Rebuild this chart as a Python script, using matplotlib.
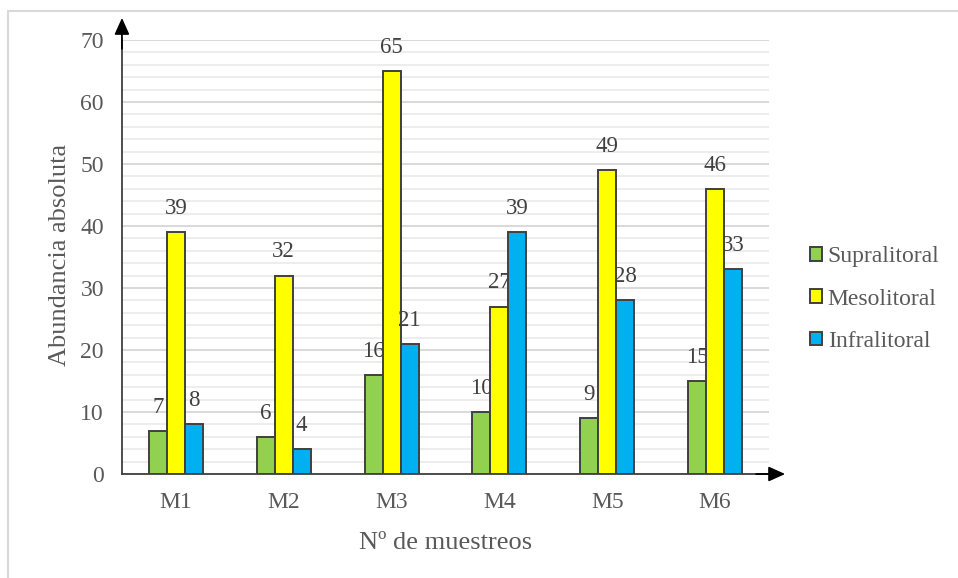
import numpy as np
import matplotlib.pyplot as plt
from matplotlib.patches import Rectangle

plt.rcParams["font.family"] = ["Liberation Serif", "DejaVu Serif"]

muestreos = ["M1", "M2", "M3", "M4", "M5", "M6"]
supralitoral = [7, 6, 16, 10, 9, 15]
mesolitoral = [39, 32, 65, 27, 49, 46]
infralitoral = [8, 4, 21, 39, 28, 33]

series = [
    ("Supralitoral", supralitoral, "#92D050"),
    ("Mesolitoral", mesolitoral, "#FFFF00"),
    ("Infralitoral", infralitoral, "#00B0F0"),
]

text_color = "#595959"
edge_color = "#404040"

fig = plt.figure(figsize=(9.58, 5.78), dpi=100)
ax = fig.add_axes([0.1273, 0.1799, 0.6754, 0.7509])

# light frame around the chart area
fig.patches.append(Rectangle((8 / 958, -0.1), 1.2, 1 - 11 / 578 + 0.1,
                             transform=fig.transFigure, fill=False,
                             edgecolor="#d9d9d9", linewidth=1.5))

x = np.arange(len(muestreos))
width = 0.167
for i, (name, vals, color) in enumerate(series):
    pos = x + (i - 1) * width
    bars = ax.bar(pos, vals, width, color=color, edgecolor=edge_color,
                  linewidth=1.4, label=name, zorder=3)
    for b, v in zip(bars, vals):
        ax.annotate(str(v), (b.get_x() + b.get_width() / 2, v),
                    xytext=(0, 17), textcoords="offset points",
                    ha="center", va="center", fontsize=16.5, color=edge_color)

ax.set_xlim(-0.5, len(muestreos) - 0.5)
ax.set_ylim(0, 70)
ax.set_yticks(np.arange(0, 71, 10))
ax.set_yticks(np.arange(0, 71, 2), minor=True)
ax.grid(axis="y", which="major", color="#d9d9d9", linewidth=1.4, zorder=0)
ax.grid(axis="y", which="minor", color="#ededed", linewidth=1.4, zorder=0)
ax.set_axisbelow(True)

ax.set_xticks(x)
ax.set_xticklabels(muestreos)
ax.tick_params(axis="both", which="both", length=0, labelsize=17,
               labelcolor=text_color)
ax.tick_params(axis="x", pad=13)
ax.tick_params(axis="y", pad=13)

for side in ["top", "right"]:
    ax.spines[side].set_visible(False)
for side in ["left", "bottom"]:
    ax.spines[side].set_color(edge_color)
    ax.spines[side].set_linewidth(1.3)

# arrow heads on both axes
arrow = dict(arrowstyle="-|>,head_length=1.0,head_width=0.45", color="black",
             linewidth=1.3, shrinkA=0, shrinkB=0)
ax.annotate("", xy=(0, 1.051), xytext=(0, 0.98), xycoords="axes fraction",
            arrowprops=arrow)
ax.annotate("", xy=(1.025, 0), xytext=(0.98, 0), xycoords="axes fraction",
            arrowprops=arrow)

ax.set_ylabel("Abundancia absoluta", fontsize=19, color=text_color)
ax.yaxis.set_label_coords(-0.096, 0.505)
ax.yaxis.label.set_va("center")
ax.set_xlabel("Nº de muestreos", fontsize=19, color=text_color)
ax.xaxis.set_label_coords(0.5, -0.16)
ax.xaxis.label.set_va("center")

ax.legend(loc="center left", bbox_to_anchor=(1.045, 0.403), frameon=False,
          fontsize=17, labelcolor=text_color, handlelength=0.5,
          handleheight=0.5, handletextpad=0.25, labelspacing=0.9,
          borderpad=0)

fig.savefig("out.png", dpi=100)
